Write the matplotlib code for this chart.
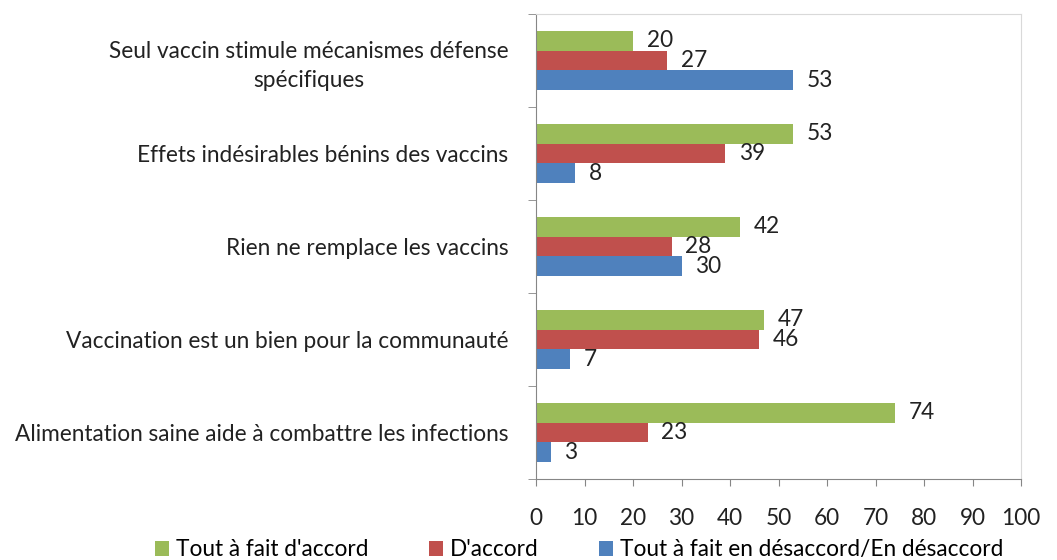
import matplotlib
matplotlib.use("Agg")
import matplotlib.pyplot as plt
import numpy as np

categories = [
    "Seul vaccin stimule mécanismes défense\nspécifiques",
    "Effets indésirables bénins des vaccins",
    "Rien ne remplace les vaccins",
    "Vaccination est un bien pour la communauté",
    "Alimentation saine aide à combattre les infections",
]
series_names = ["Tout à fait d'accord", "D'accord", "Tout à fait en désaccord/En désaccord"]
tout_accord = [20, 53, 42, 47, 74]
accord = [27, 39, 28, 46, 23]
desaccord = [53, 8, 30, 7, 3]
colors = ["#9BBB59", "#C0504D", "#4F81BD"]
xticks = list(range(0, 101, 10))

plt.rcParams['font.family'] = ['Lato', 'DejaVu Sans']
FS = 16.3

fig = plt.figure(figsize=(10.57, 5.6), dpi=100)
ax = fig.add_axes([536/1057, 1-479/560, (1021-536)/1057, (479-14)/560])

n = len(categories)
y = np.arange(n)
h = 0.215
series = [tout_accord, accord, desaccord]
for i, (vals, name, c) in enumerate(zip(series, series_names, colors)):
    pos = y + (i - 1) * h
    bars = ax.barh(pos, vals, height=h, color=c, label=name)
    for b, v in zip(bars, vals):
        ax.text(v + 2.8, b.get_y() + h/2, str(v), va='center', ha='left',
                fontsize=FS, color='#222222')

ax.set_xlim(0, 100)
ax.set_ylim(n - 0.5, -0.5)
ax.set_xticks(xticks)
ax.tick_params(axis='x', labelsize=FS, length=5, color='#868686', colors='#222222', pad=16)
ax.set_yticks(y)
ax.set_yticklabels(categories, fontsize=FS, color='#222222', multialignment='center',
                   linespacing=1.45)
ax.tick_params(axis='y', length=0, pad=20)
ax.set_yticks(np.arange(-0.5, n, 1.0), minor=True)
ax.tick_params(axis='y', which='minor', length=6, color='#868686')

for s in ['left', 'bottom']:
    ax.spines[s].set_color('#868686')
for s in ['top', 'right']:
    ax.spines[s].set_color('#D9D9D9')

handles, labels = ax.get_legend_handles_labels()
fig.legend(handles, labels, loc='center', bbox_to_anchor=(0.548, 0.018), ncol=3,
           frameon=False, fontsize=FS, handlelength=0.6, handleheight=0.6,
           handletextpad=0.3, columnspacing=2.7, borderaxespad=0, borderpad=0)

fig.savefig("out.png", dpi=100)
